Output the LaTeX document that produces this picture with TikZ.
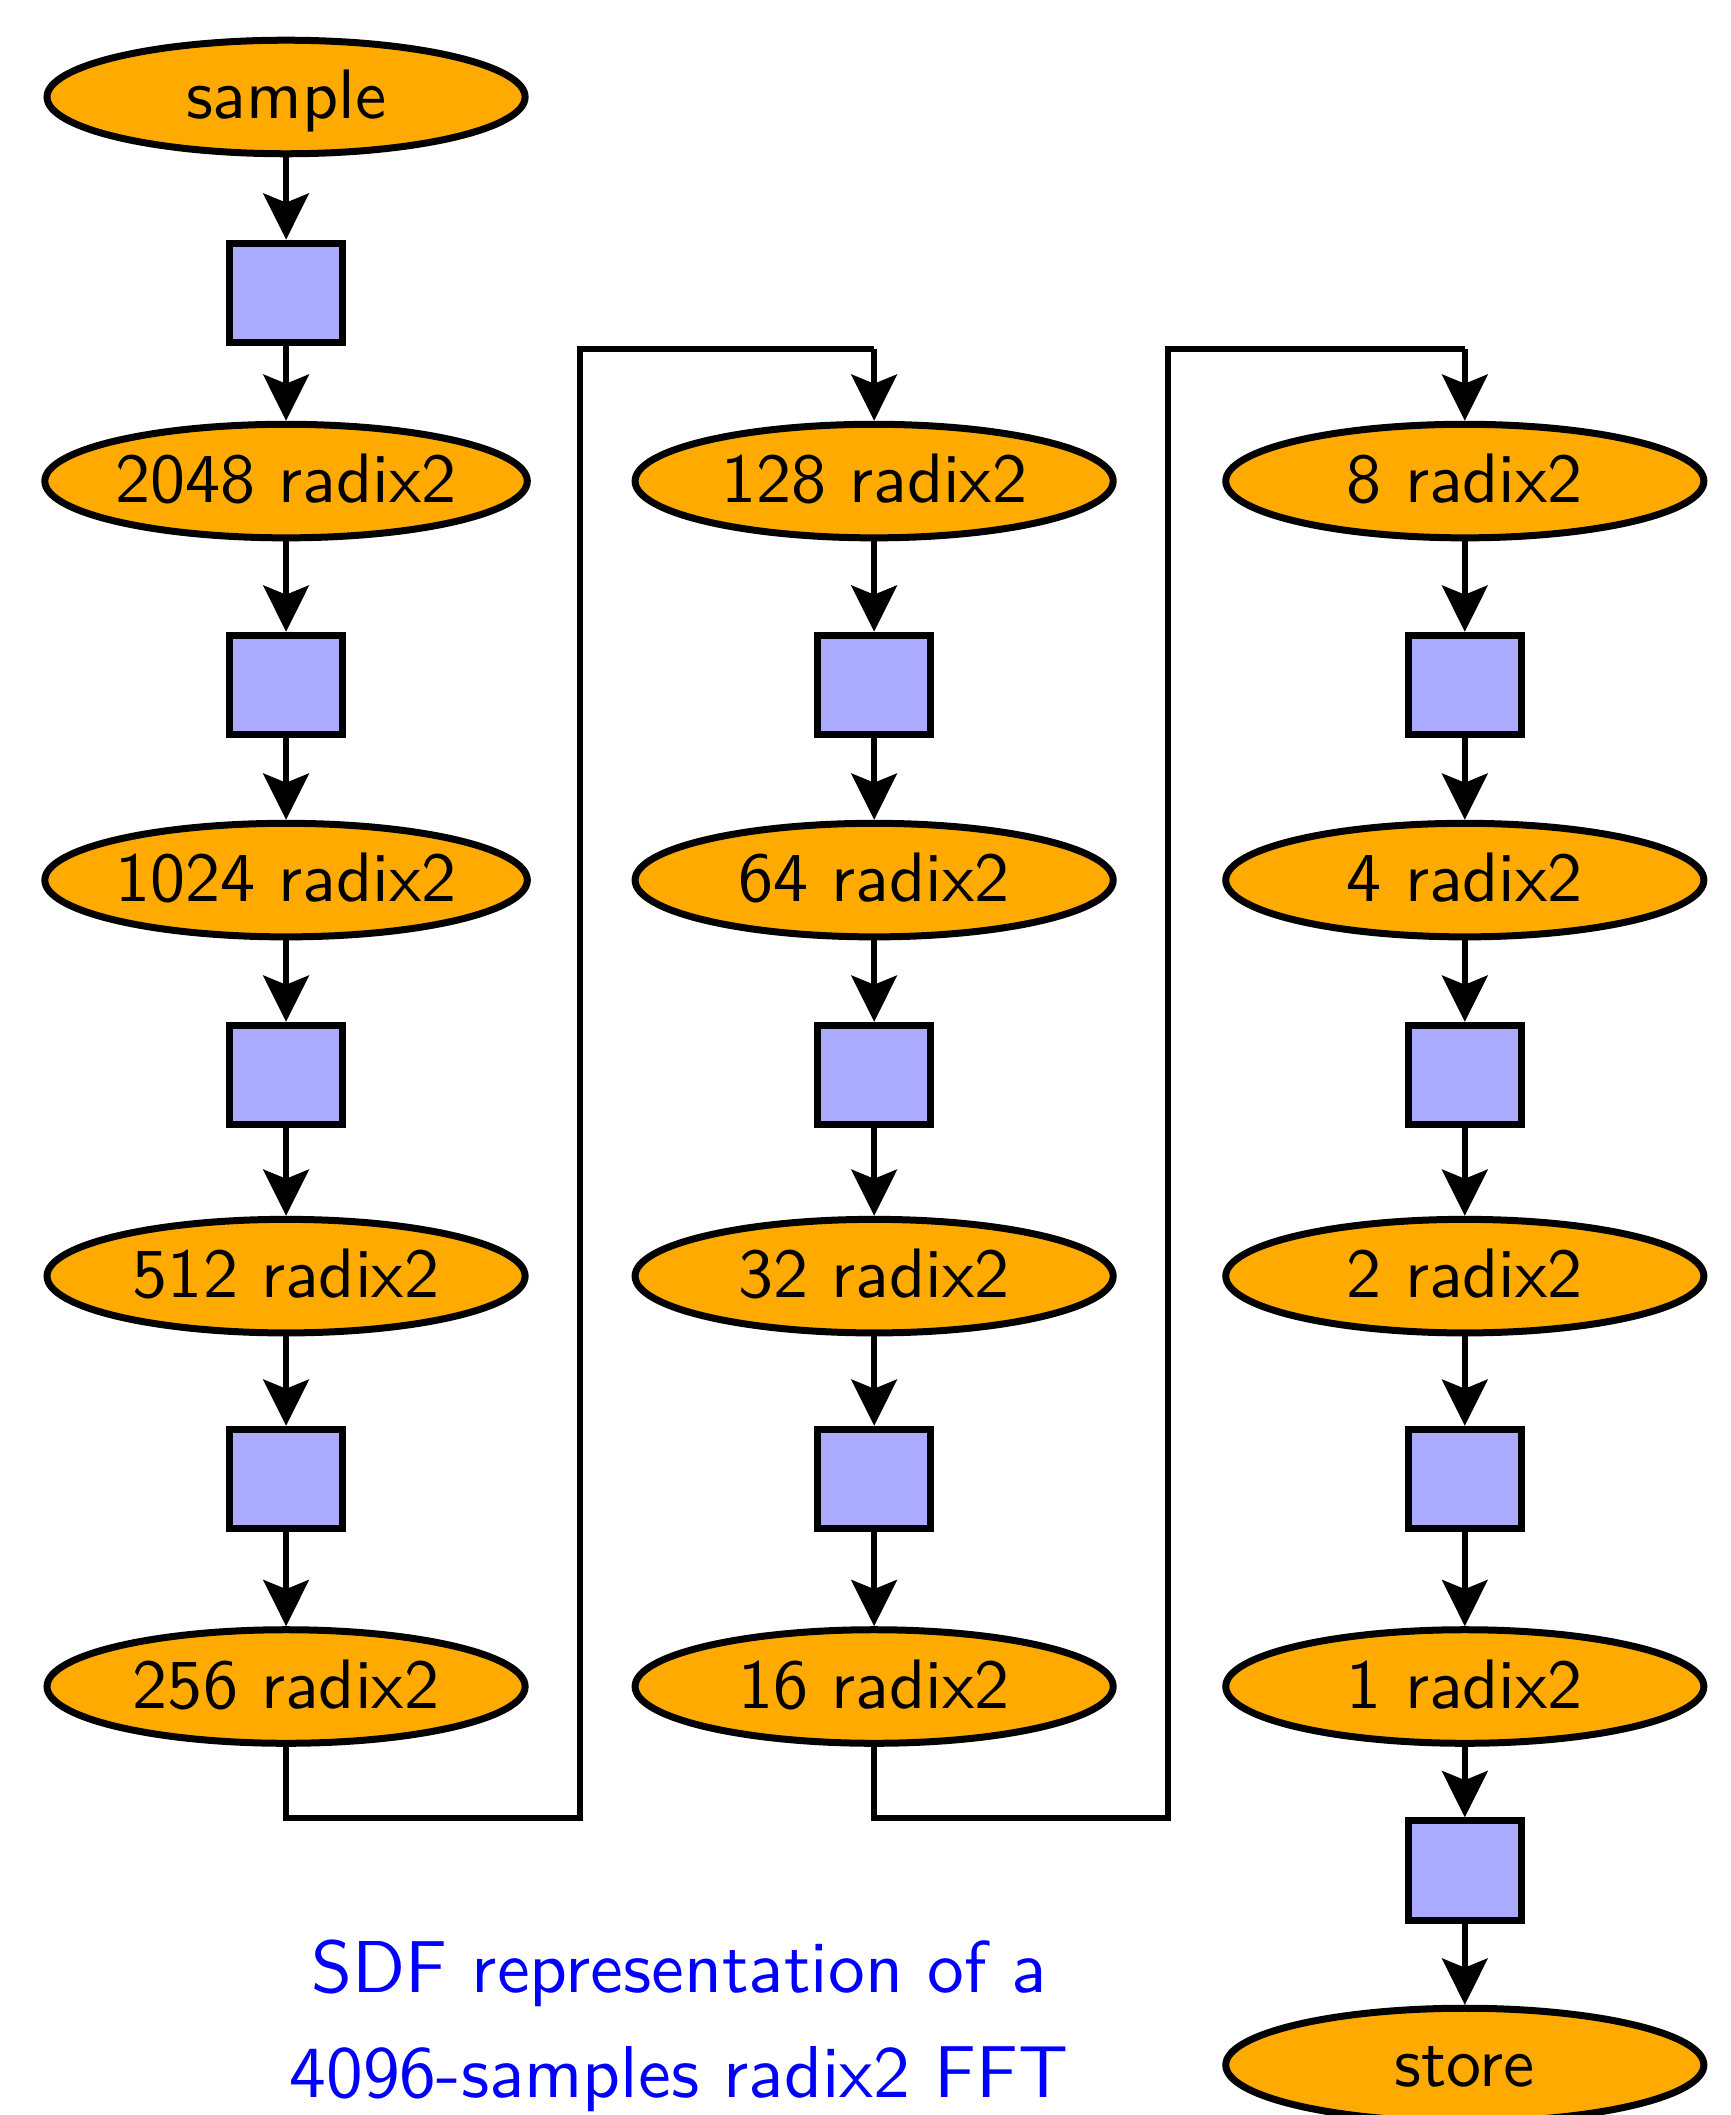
\documentclass[tikz,border=0pt]{standalone}
\usepackage{fontspec}
\usetikzlibrary{shapes.geometric,arrows.meta}

\definecolor{actorfill}{RGB}{255,170,0}
\definecolor{fifofill}{RGB}{170,170,255}

\tikzset{
	actor/.style = {draw, ellipse, fill=actorfill, line width=1pt, inner sep=0pt,
		minimum width=2.4cm, minimum height=0.57cm, text height=7pt, text depth=0.8pt,
		font=\sffamily},
	fifo/.style = {draw, rectangle, fill=fifofill, line width=1pt, inner sep=0pt,
		minimum width=0.565cm, minimum height=0.5cm},
	flow/.style = {line width=0.85pt, -{Stealth[length=6.6pt, width=6.5pt, inset=1.3pt]}},
	wire/.style = {line width=0.85pt},
	caption/.style = {text=blue, anchor=base, font=\sffamily\fontsize{10.5}{13}\selectfont}
}

\begin{document}
\begin{tikzpicture}
		\useasboundingbox (0,0) rectangle (8.685,-10.617);

		% first column
		\node [actor] (sample) at (1.436,-0.487) {sample};
		\node [fifo] (f1) at (1.436,-1.471) {};
		\node [actor] (r2048) at (1.436,-2.415) {2048 radix2};
		\node [fifo] (f2) at (1.436,-3.439) {};
		\node [actor] (r1024) at (1.436,-4.418) {1024 radix2};
		\node [fifo] (f3) at (1.436,-5.397) {};
		\node [actor] (r512) at (1.436,-6.406) {512 radix2};
		\node [fifo] (f4) at (1.436,-7.425) {};
		\node [actor] (r256) at (1.436,-8.466) {256 radix2};

		% second column
		\node [actor] (r128) at (4.388,-2.415) {128 radix2};
		\node [fifo] (f6) at (4.388,-3.439) {};
		\node [actor] (r64) at (4.388,-4.418) {64 radix2};
		\node [fifo] (f7) at (4.388,-5.397) {};
		\node [actor] (r32) at (4.388,-6.406) {32 radix2};
		\node [fifo] (f8) at (4.388,-7.425) {};
		\node [actor] (r16) at (4.388,-8.466) {16 radix2};

		% third column
		\node [actor] (r8) at (7.353,-2.415) {8 radix2};
		\node [fifo] (f10) at (7.353,-3.439) {};
		\node [actor] (r4) at (7.353,-4.418) {4 radix2};
		\node [fifo] (f11) at (7.353,-5.397) {};
		\node [actor] (r2) at (7.353,-6.406) {2 radix2};
		\node [fifo] (f12) at (7.353,-7.425) {};
		\node [actor] (r1) at (7.353,-8.466) {1 radix2};
		\node [fifo] (f13) at (7.353,-9.390) {};
		\node [actor] (store) at (7.353,-10.366) {store};

		% edges inside each column
		\foreach \a/\b in {sample/f1, f1/r2048, r2048/f2, f2/r1024, r1024/f3, f3/r512, r512/f4, f4/r256,
			r128/f6, f6/r64, r64/f7, f7/r32, r32/f8, f8/r16,
			r8/f10, f10/r4, r4/f11, f11/r2, r2/f12, f12/r1, r1/f13, f13/store}
			\draw [flow] (\a) -- (\b);

		% edges from one column to the next
		\coordinate (b1) at (2.912,-9.127);
		\coordinate (t1) at (2.912,-1.752);
		\coordinate (b2) at (5.863,-9.127);
		\coordinate (t2) at (5.863,-1.752);
		\draw [wire] (r256) -- (r256 |- b1) -- (b1) -- (t1) -- (r128 |- t1);
		\draw [flow] (r128 |- t1) -- (r128);
		\draw [wire] (r16) -- (r16 |- b2) -- (b2) -- (t2) -- (r8 |- t2);
		\draw [flow] (r8 |- t2) -- (r8);

		\node [caption] (cap1) at (3.409,-10.0) {SDF representation of a};
		\node [caption] (cap2) at (3.409,-10.527) {4096-samples radix2 FFT};
\end{tikzpicture}
\end{document}
